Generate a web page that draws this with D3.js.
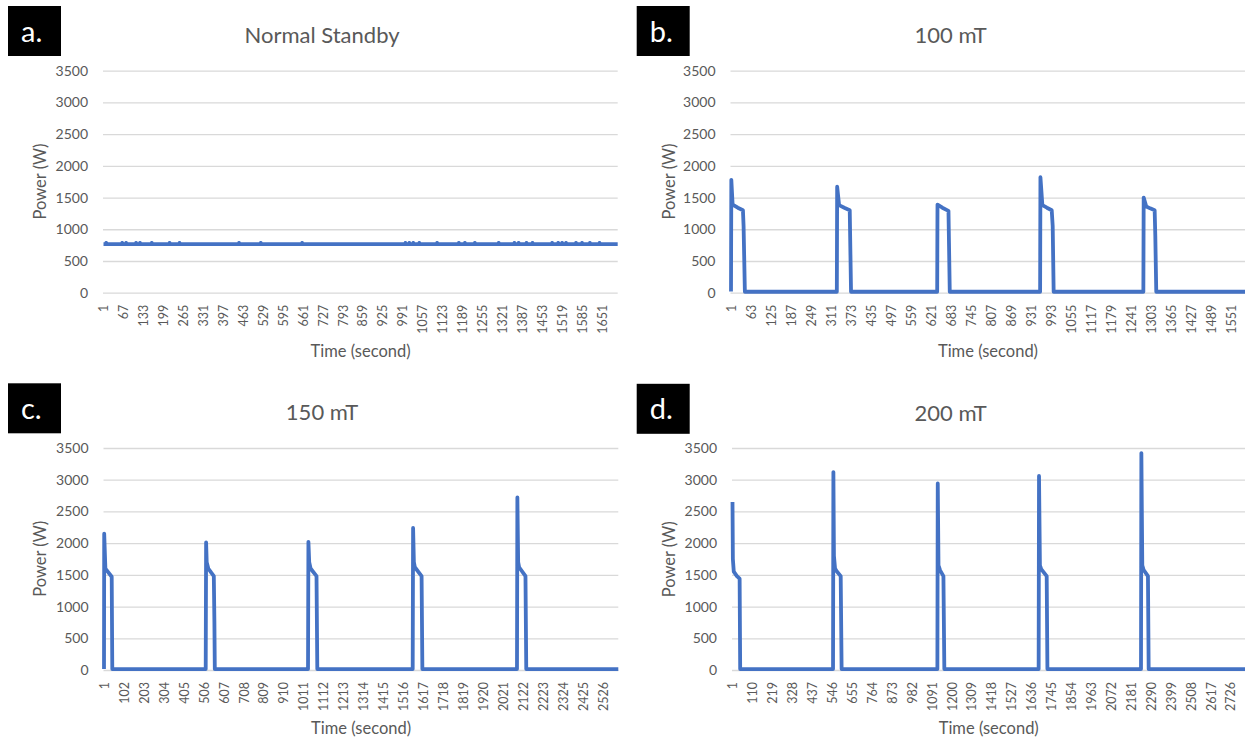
<!DOCTYPE html>
<html>
<head>
<meta charset="utf-8">
<script src="https://cdn.jsdelivr.net/npm/d3@7"></script>
<style>
  body { margin: 0; background: #fff; }
  svg { display: block; font-family: Lato, "Open Sans", sans-serif; }
</style>
</head>
<body>
<script>
"use strict";

// ---- data: [second, watts] vertices ----
const yTicks = [0, 500, 1000, 1500, 2000, 2500, 3000, 3500];

const standbyLevel = 765;
const standbyBumps = [10, 63, 76, 109, 122, 161, 220, 253, 450, 522, 659, 1001, 1014, 1027,
  1047, 1106, 1178, 1198, 1231, 1310, 1362, 1376, 1402, 1422, 1487, 1507, 1520, 1533,
  1566, 1586, 1612, 1644];
const standbyLast = 1704;

const mt100 = [
  [1, 20], [2, 1780], [6, 1390], [22, 1340], [38, 1300], [40, 1050], [44, 15],
  [329, 15], [330, 1670], [336, 1380], [352, 1340], [369, 1300], [373, 15],
  [640, 15], [641, 1390], [656, 1340], [675, 1290], [679, 15],
  [959, 15], [960, 1820], [966, 1380], [980, 1340], [995, 1300], [998, 1050], [1001, 15],
  [1279, 15], [1280, 1500], [1288, 1360], [1300, 1330], [1314, 1300], [1316, 900], [1319, 15],
  [1594, 15]
];

const mt150 = [
  [1, 15], [2, 2150], [8, 1600], [20, 1550], [40, 1470], [43, 15],
  [516, 15], [518, 2010], [521, 1700], [529, 1600], [545, 1530], [557, 1480], [560, 750], [562, 15],
  [1034, 15], [1036, 2020], [1040, 1700], [1047, 1600], [1077, 1480], [1081, 15],
  [1564, 15], [1566, 2240], [1570, 1700], [1575, 1620], [1609, 1480], [1613, 15],
  [2092, 15], [2094, 2720], [2098, 1700], [2103, 1620], [2135, 1480], [2139, 15],
  [2605, 15]
];

const mt200 = [
  [1, 2650], [3, 1750], [8, 1550], [25, 1480], [40, 1440], [43, 15],
  [551, 15], [553, 3120], [556, 1800], [562, 1600], [570, 1560], [593, 1480], [598, 15],
  [1122, 15], [1124, 2940], [1128, 1650], [1137, 1570], [1155, 1480], [1160, 15],
  [1676, 15], [1678, 3060], [1683, 1650], [1690, 1590], [1720, 1480], [1724, 15],
  [2236, 15], [2238, 3420], [2243, 1650], [2250, 1580], [2274, 1480], [2278, 15],
  [2805, 15]
];

const ticksA = [1, 67, 133, 199, 265, 331, 397, 463, 529, 595, 661, 727, 793, 859, 925, 991,
  1057, 1123, 1189, 1255, 1321, 1387, 1453, 1519, 1585, 1651];
const ticksB = [1, 63, 125, 187, 249, 311, 373, 435, 497, 559, 621, 683, 745, 807, 869, 931,
  993, 1055, 1117, 1179, 1241, 1303, 1365, 1427, 1489, 1551];
const ticksC = [1, 102, 203, 304, 405, 506, 607, 708, 809, 910, 1011, 1112, 1213, 1314, 1415,
  1516, 1617, 1718, 1819, 1920, 2021, 2122, 2223, 2324, 2425, 2526];
const ticksD = [1, 110, 219, 328, 437, 546, 655, 764, 873, 982, 1091, 1200, 1309, 1418, 1527,
  1636, 1745, 1854, 1963, 2072, 2181, 2290, 2399, 2508, 2617, 2726];

// standby series: flat level with tiny one-second bumps
let standby = [[1, standbyLevel]];
standbyBumps.forEach(s => {
  standby.push([s - 1, standbyLevel], [s, 785], [s + 1, standbyLevel]);
});
standby.push([standbyLast, standbyLevel]);

const panels = [
  { tag: "a.", title: "Normal Standby", data: standby, ticks: ticksA, last: standbyLast,
    left: 103.5, right: 617.7, top: 70.7, bottom: 292.7, dx: 0, dy: 0 },
  { tag: "b.", title: "100 mT", data: mt100, ticks: ticksB, last: 1594,
    left: 731, right: 1245, top: 70.7, bottom: 292.7, dx: 628.7, dy: 0 },
  { tag: "c.", title: "150 mT", data: mt150, ticks: ticksC, last: 2605,
    left: 104, right: 618.3, top: 448, bottom: 670, dx: 0, dy: 377.3 },
  { tag: "d.", title: "200 mT", data: mt200, ticks: ticksD, last: 2805,
    left: 732.5, right: 1245, top: 448, bottom: 670, dx: 628.7, dy: 377.8 }
];

const textColor = "#595959";
const lineColor = "#4472C4";

let svg = d3
  .select("body")
  .append("svg")
  .attr("width", 1245)
  .attr("height", 738);

svg.append("rect").attr("width", 1245).attr("height", 738).attr("fill", "#fff");

panels.forEach(p => {
  let g = svg.append("g");

  let x = d3.scaleLinear().domain([1, p.last]).range([p.left, p.right]);
  let y = d3.scaleLinear().domain([0, 3500]).range([p.bottom, p.top]);

  // gridlines + y labels
  let yAxis = g
    .append("g")
    .attr("transform", `translate(${p.left - 0.5},0)`)
    .call(
      d3.axisLeft(y)
        .tickValues(yTicks)
        .tickFormat(d3.format("d"))
        .tickSizeInner(-(p.right - p.left + 0.5))
        .tickSizeOuter(0)
        .tickPadding(15)
    );
  yAxis.select(".domain").remove();
  yAxis.selectAll("line").attr("stroke", "#d9d9d9").attr("stroke-width", 1.3);
  yAxis.selectAll("text")
    .attr("fill", textColor)
    .attr("font-size", "14px")
    .attr("font-family", "Lato, sans-serif");

  // x labels, rotated
  let xAxis = g
    .append("g")
    .attr("transform", `translate(0,${p.bottom})`)
    .call(d3.axisBottom(x).tickValues(p.ticks).tickSize(0).tickFormat(d3.format("d")));
  xAxis.select(".domain").remove();
  xAxis.selectAll("text")
    .attr("transform", "rotate(-90)")
    .attr("text-anchor", "end")
    .attr("x", -12)
    .attr("y", 0)
    .attr("dy", "0.35em")
    .attr("fill", textColor)
    .attr("font-size", "12.5px")
    .attr("font-family", "Lato, sans-serif");

  // series line
  let line = d3.line().x(d => x(d[0])).y(d => y(d[1]));
  g.append("path")
    .datum(p.data)
    .attr("d", line)
    .attr("fill", "none")
    .attr("stroke", lineColor)
    .attr("stroke-width", 3.8)
    .attr("stroke-linejoin", "round");

  // titles
  g.append("text")
    .attr("x", 322 + p.dx)
    .attr("y", 42.7 + p.dy)
    .attr("text-anchor", "middle")
    .attr("font-size", "22px")
    .attr("fill", textColor)
    .text(p.title);

  g.append("text")
    .attr("x", (p.left + p.right) / 2)
    .attr("y", p.bottom + 64)
    .attr("text-anchor", "middle")
    .attr("font-size", "16.5px")
    .attr("fill", textColor)
    .text("Time (second)");

  g.append("text")
    .attr("transform", `translate(${46 + p.dx},${181.5 + p.dy}) rotate(-90)`)
    .attr("text-anchor", "middle")
    .attr("font-size", "16.5px")
    .attr("fill", textColor)
    .text("Power (W)");

  // panel tag box
  g.append("rect")
    .attr("x", 8 + p.dx)
    .attr("y", 6 + p.dy)
    .attr("width", 53)
    .attr("height", 50)
    .attr("fill", "#000");
  g.append("text")
    .attr("x", 21 + p.dx)
    .attr("y", 41.5 + p.dy)
    .attr("font-size", "29px")
    .attr("fill", "#fff")
    .text(p.tag);
});
</script>
</body>
</html>
